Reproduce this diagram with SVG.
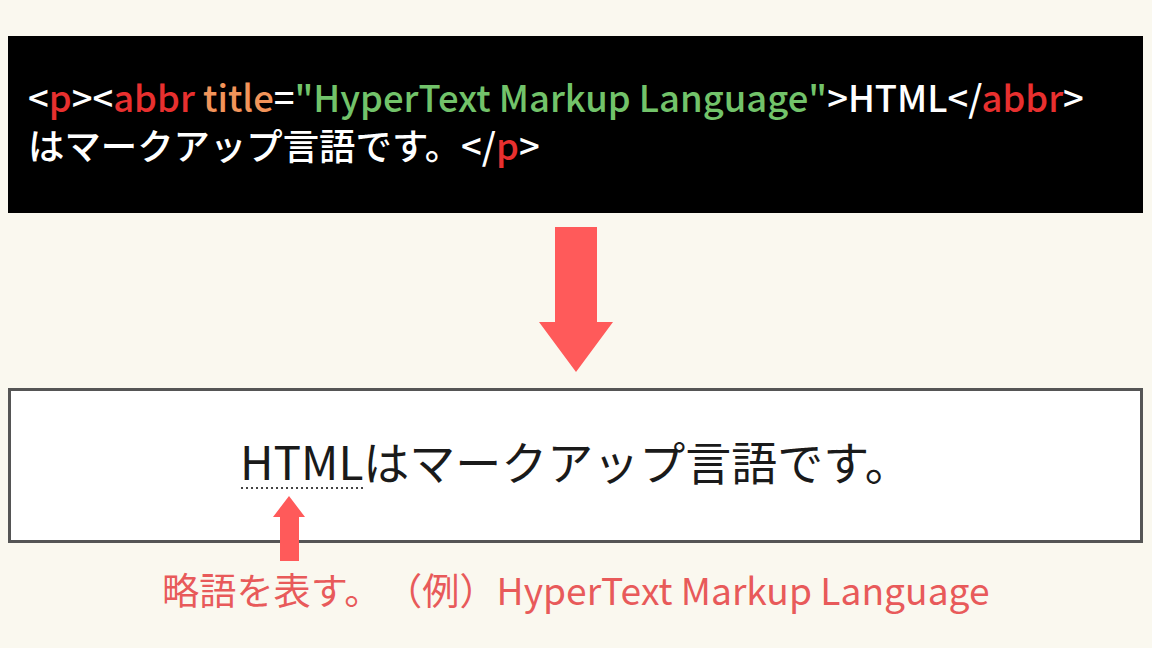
<svg xmlns="http://www.w3.org/2000/svg" width="1152" height="648" viewBox="0 0 1152 648">
<style>
text{font-family:"Noto Sans CJK JP","Noto Sans",sans-serif;text-spacing-trim:space-all}
.code{font-size:36.4px;fill:#ffffff;font-weight:500}
.tag{fill:#e8302f}
.attr{fill:#f2945a}
.val{fill:#72c36a}
.main{font-size:46px;fill:#1a1a1a}
.note{font-size:37.2px;fill:#e85a5a}
.arrow{fill:#ff5a5a}
</style>
<rect width="1152" height="648" fill="#faf8ef"/>
<g id="code-box">
<rect x="8" y="36" width="1135" height="177" fill="#000000"/>
<text class="code" x="28" y="112">&lt;<tspan class="tag">p</tspan>&gt;&lt;<tspan class="tag">abbr</tspan> <tspan class="attr">title</tspan>=<tspan class="val">"HyperText Markup Language"</tspan>&gt;HTML&lt;/<tspan class="tag">abbr</tspan>&gt;</text>
<text class="code" x="28" y="160">はマークアップ言語です。&lt;/<tspan class="tag">p</tspan>&gt;</text>
</g>
<g id="result-box">
<rect x="9.5" y="389.5" width="1132" height="152" fill="#ffffff" stroke="#555555" stroke-width="3"/>
<text class="main" x="240" y="480">HTMLはマークアップ言語です。</text>
<line x1="241" y1="488" x2="366" y2="488" stroke="#444444" stroke-width="2" stroke-dasharray="2 3"/>
</g>
<g id="connectors">
<polygon class="arrow" points="555,227 597,227 597,322 613,322 576,372 539,322 555,322"/>
<polygon class="arrow" points="289,496 305,517 299,517 299,561 280,561 280,517 273,517"/>
</g>
<g id="note">
<text class="note" y="605"><tspan x="162">略語を表す。</tspan><tspan x="385">（例）HyperText Markup Language</tspan></text>
</g>
</svg>
